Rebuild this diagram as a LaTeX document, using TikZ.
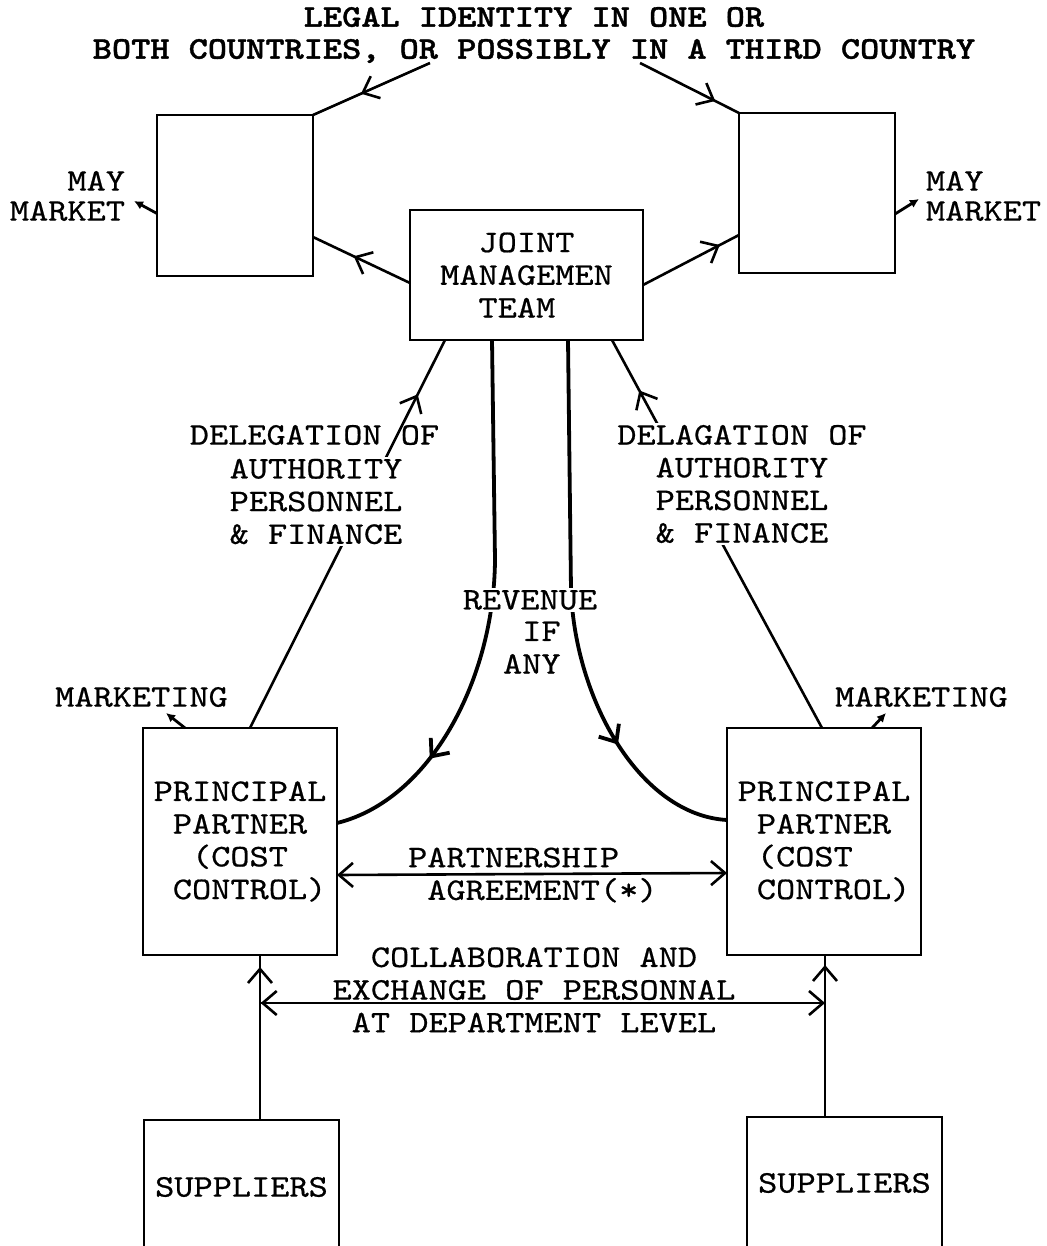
\documentclass[tikz,border=0pt]{standalone}
\usepackage{fontspec}
\usetikzlibrary{arrows.meta,decorations.markings,calc}
\newfontfamily\tw{lmmono10-regular.otf}[FakeStretch=1.16,FakeBold=0.6]
\newfontfamily\twb{lmmonolt10-bold.otf}[FakeStretch=1.16,FakeBold=1.2]

\begin{document}
\begin{tikzpicture}[x=1pt,y=-1pt,
  >={Straight Barb[length=14pt,width=24pt]},
  every node/.style={inner sep=0pt,outer sep=0pt},
  txt/.style={font=\tw\fontsize{31.5}{32.7}\selectfont},
  ttl/.style={font=\twb\fontsize{31.5}{32}\selectfont},
  box/.style={draw,line width=2.8pt,txt},
  conn/.style={line width=2.6pt},
  thick conn/.style={line width=3.8pt},
  stub/.style={line width=2.8pt,-{Latex[length=9pt,width=9pt]}},
  headat/.style={postaction={decorate},
    decoration={markings,mark=at position #1 with {\arrow{>}}}},
  tailat/.style={postaction={decorate},
    decoration={markings,mark=at position #1 with {\arrow{<}}}},
  cover/.style={fill=white,inner sep=2pt}
]
\useasboundingbox (0,0) rectangle (1046,1246);
\fill[white] (0,0) rectangle (1046,1246);
\clip (0,0) rectangle (1046,1246);

% ---- title ----
\node[ttl,align=center] (title) at (534,35)
  {LEGAL IDENTITY IN ONE OR\\BOTH COUNTRIES, OR POSSIBLY IN A THIRD COUNTRY};
\coordinate (orpt) at (430,63);
\coordinate (inpt) at (640,63);

% ---- boxes ----
\node[box,minimum width=156pt,minimum height=161pt] (tl) at (235,195.5) {};
\node[box,minimum width=156pt,minimum height=160pt] (tr) at (817,193) {};
\node[box,align=left,minimum width=233pt,minimum height=130pt] (jmt) at (526.5,275)
  {\phantom{MA}JOINT\\MANAGEMEN\\\phantom{MA}TEAM};
\node[box,align=left,minimum width=194pt,minimum height=227pt] (ppl) at (240,841.5)
  {PRINCIPAL\\\phantom{P}PARTNER\\\phantom{PR}(COST\\\phantom{P}CONTROL)};
\node[box,align=left,minimum width=194pt,minimum height=227pt] (ppr) at (824,841.5)
  {PRINCIPAL\\\phantom{P}PARTNER\\\phantom{P}(COST\\\phantom{P}CONTROL)};
\node[box,minimum width=195pt,minimum height=134pt] (supl) at (241.5,1187) {SUPPLIERS};
\node[box,minimum width=195pt,minimum height=132pt] (supr) at (844.5,1183) {SUPPLIERS};

% ---- side labels ----
\node[txt,align=right,anchor=east,font=\tw\fontsize{31.5}{30}\selectfont] (mml) at (125,196) {MAY\\MARKET};
\node[txt,align=left,anchor=west,font=\tw\fontsize{31.5}{30}\selectfont] (mmr) at (926,196) {MAY\\MARKET};
\node[txt] (mkl) at (141.5,697) {MARKETING};
\node[txt] (mkr) at (921.5,697) {MARKETING};
\coordinate (mmla) at (134,201);
\coordinate (mmra) at (919,199);
\coordinate (mkla) at (166,713);
\coordinate (mkra) at (886,713);

% ---- links from the title and the management team ----
\draw[conn,headat=0.59] (orpt) -- (tl.north east);
\draw[conn,headat=0.76] (inpt) -- (tr.north west);
\draw[conn,headat=0.58] ([yshift=-8pt]jmt.west) -- ([yshift=-41.5pt]tl.east);
\draw[conn,headat=0.8] ([yshift=-10pt]jmt.east) -- ([yshift=-42pt]tr.west);
\draw[stub] ([yshift=-18pt]tl.west) -- (mmla);
\draw[stub] ([yshift=-21pt]tr.east) -- (mmra);
\draw[stub] ([xshift=-55pt]ppl.north) -- (mkla);
\draw[stub] ([xshift=48pt]ppr.north) -- (mkra);

% ---- delegation lines ----
\draw[conn,headat=0.86] ([xshift=10pt]ppl.north) -- ([xshift=35pt]jmt.south west);
\draw[conn,headat=0.87] ([xshift=-2pt]ppr.north) -- ([xshift=202pt]jmt.south west);
\node[txt] (dl1) at (314.5,435) {DELEGATION OF};
\node[txt,cover,align=center] (dl2) at (316,501.5) {AUTHORITY\\PERSONNEL\\\& FINANCE};
\node[txt,cover,align=center] (dr) at (742,484)
  {DELAGATION OF\\AUTHORITY\\PERSONNEL\\\& FINANCE};

% ---- revenue flows ----
\draw[thick conn,headat=0.79] ([xshift=82pt]jmt.south west) -- (495,560)
  .. controls (494,680) and (430,800) .. ([yshift=18.5pt]ppl.east);
\draw[thick conn,headat=0.75] ([xshift=158pt]jmt.south west) -- (571,590)
  .. controls (575,700) and (640,815) .. ([yshift=21.5pt]ppr.west);
\node[txt,cover] (rev) at (530,600) {REVENUE};
\node[txt,align=left] (ifany) at (531.8,647.5) {\phantom{A}IF\\ANY};

% ---- partnership agreement ----
\draw[conn,<->] ([yshift=-33.5pt]ppl.east) -- ([yshift=-31.5pt]ppr.west);
\node[txt,align=left] (pa) at (532.8,875) {PARTNERSHIP\\\phantom{A}AGREEMENT(*)};

% ---- suppliers and department level exchange ----
\draw[conn,headat=-12pt] ([xshift=18.5pt]supl.north) -- ([xshift=20pt]ppl.south);
\draw[conn,headat=-10pt] ([xshift=-19.5pt]supr.north) -- ([xshift=1pt]ppr.south);
\coordinate (cl) at (260,1003);
\coordinate (cr) at (825,1003);
\draw[conn,->,tailat=18pt] (cl) -- (cr);
\node[txt,align=center] (collab) at (534,990)
  {COLLABORATION AND\\EXCHANGE OF PERSONNAL\\AT DEPARTMENT LEVEL};
\end{tikzpicture}
\end{document}
